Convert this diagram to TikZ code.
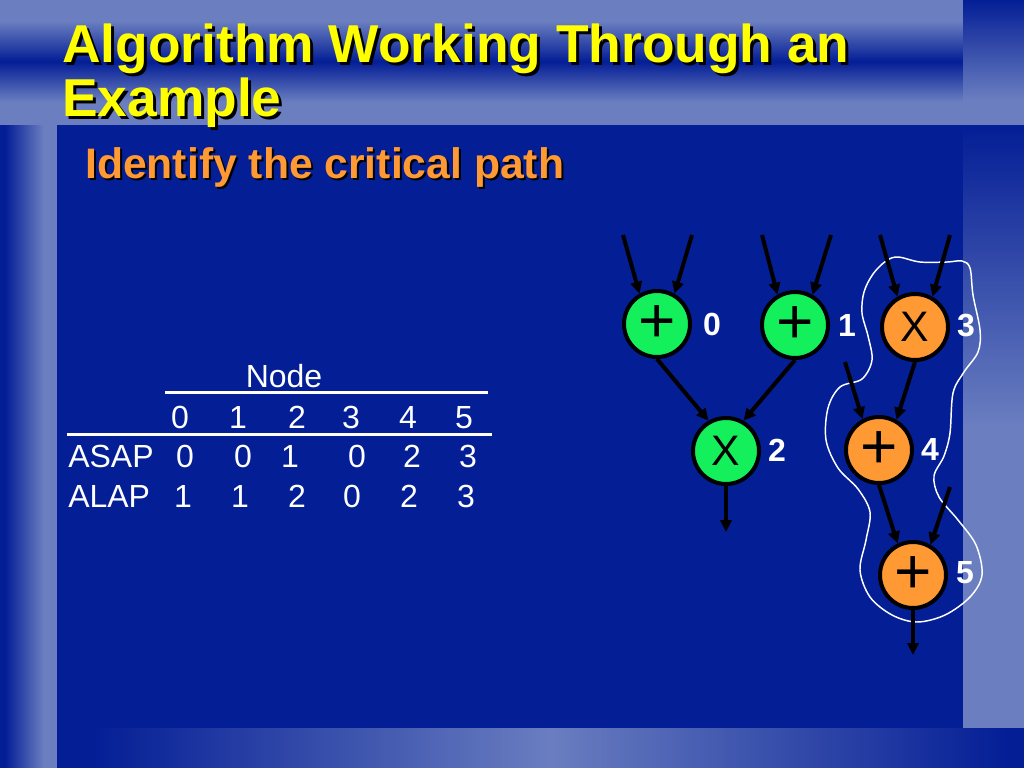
\documentclass[tikz,border=0pt]{standalone}
\usepackage{fontspec}
\setmainfont{Liberation Sans}
\usetikzlibrary{arrows.meta}
\definecolor{bgdark}{RGB}{4,30,150}
\definecolor{bglight}{RGB}{106,126,192}
\definecolor{titleyellow}{RGB}{255,255,0}
\definecolor{suborange}{RGB}{255,153,51}
\definecolor{opgreen}{RGB}{20,240,92}
\definecolor{oporange}{RGB}{255,153,51}
\newcommand{\plussym}{\raisebox{-2.8pt}{\fontsize{48}{48}\selectfont +}}
\newcommand{\timessym}{{\fontsize{32}{32}\selectfont X}}
\begin{document}
\begin{tikzpicture}[x=0.75pt,y=-0.75pt,
  op/.style={circle, draw=black, line width=3pt, minimum size=49.5pt, inner sep=0pt},
  greenop/.style={op, fill=opgreen},
  orangeop/.style={op, fill=oporange},
  flow/.style={line width=3pt, -{Triangle[length=9pt,width=8.5pt]}},
  oplabel/.style={text=white, inner sep=0pt, font=\fontsize{24}{24}\selectfont\bfseries},
  tabtext/.style={text=white, inner sep=0pt, anchor=base, font=\fontsize{24}{24}\selectfont},
  tabrule/.style={white, line width=2.25pt},
]
\useasboundingbox (0,0) rectangle (1024,768);
% background
\fill[bgdark] (0,0) rectangle (1024,768);
% top band: light - dark - light
\foreach \i in {0,...,124}{
  \pgfmathtruncatemacro\t{min(100,abs(\i+0.5-62)*2.5)}
  \fill[bglight!\t!bgdark] (0,\i) rectangle (963,\i+1.6);
}
% top right corner: dark to light
\foreach \i in {0,...,124}{
  \pgfmathtruncatemacro\t{min(100,\i)}
  \fill[bglight!\t!bgdark] (963,\i) rectangle (1024,\i+1.6);
}
% right column
\foreach \i in {125,127,...,727}{
  \pgfmathtruncatemacro\t{min(100,(\i-125)/3)}
  \fill[bglight!\t!bgdark] (963,\i) rectangle (1024,\i+2.6);
}
% left column
\foreach \i in {0,...,56}{
  \pgfmathtruncatemacro\t{max(0,min(100,(\i-5)*2.6))}
  \fill[bglight!\t!bgdark] (\i,125) rectangle (\i+1.6,768);
}
% bottom band
\foreach \i in {57,59,...,1023}{
  \pgfmathtruncatemacro\t{max(0,100-abs(\i-550)/4.6)}
  \fill[bglight!\t!bgdark] (\i,728) rectangle (\i+2.6,768);
}
\fill[bgdark] (57,125) rectangle (963,728);

% title
\node[anchor=base west, inner sep=0pt, align=left, text=black,
      font=\fontsize{40}{40.5}\selectfont\bfseries] (titleshadow) at (65,119)
      {Algorithm Working Through an\\Example};
\node[anchor=base west, inner sep=0pt, align=left, text=titleyellow,
      font=\fontsize{40}{40.5}\selectfont\bfseries] (title) at (62,116)
      {Algorithm Working Through an\\Example};
% subtitle
\node[anchor=base west, inner sep=0pt, text=black,
      font=\fontsize{32}{32}\selectfont\bfseries] (subshadow) at (87,180)
      {Identify the critical path};
\node[anchor=base west, inner sep=0pt, text=suborange,
      font=\fontsize{32}{32}\selectfont\bfseries] (subtitle) at (85,178)
      {Identify the critical path};

% table
\node[tabtext] (hnode) at (284,387) {Node};
\draw[tabrule] (165,392) -- (488,392);
\node[tabtext] (h0) at (180,428) {0};
\node[tabtext] (h1) at (238,428) {1};
\node[tabtext] (h2) at (297,428) {2};
\node[tabtext] (h3) at (351,428) {3};
\node[tabtext] (h4) at (408,428) {4};
\node[tabtext] (h5) at (464,428) {5};
\draw[tabrule] (67,434.5) -- (492,434.5);
\node[tabtext, anchor=base west] (asap) at (68,467) {ASAP};
\node[tabtext] (s0) at (185,467) {0};
\node[tabtext] (s1) at (243,467) {0};
\node[tabtext] (s2) at (290,467) {1};
\node[tabtext] (s3) at (357,467) {0};
\node[tabtext] (s4) at (412,467) {2};
\node[tabtext] (s5) at (468,467) {3};
\node[tabtext, anchor=base west] (alap) at (68,507) {ALAP};
\node[tabtext] (l0) at (183,507) {1};
\node[tabtext] (l1) at (240,507) {1};
\node[tabtext] (l2) at (297,507) {2};
\node[tabtext] (l3) at (352,507) {0};
\node[tabtext] (l4) at (409,507) {2};
\node[tabtext] (l5) at (466,507) {3};

% critical path outline
\draw[white, line width=1.1pt] plot[smooth cycle, tension=0.55] coordinates {
 (862,313) (864,292) (873,274) (886,261) (898,257) (920,262) (947,262) (962,261)
 (970,268) (973,295) (980,330) (978,352) (964,372) (953,393) (950,433) (944,456)
 (934,476) (939,497) (958,520) (976,545) (982,575) (970,597) (945,615) (917,622)
 (892,615) (870,597) (860,570) (866,540) (870,512) (858,489) (838,468) (826,440)
 (828,408) (840,387) (862,379) (872,360) (868,336)};

% operation nodes
\node[greenop] (n0) at (657,324) {\plussym};
\node[greenop] (n1) at (795,325) {\plussym};
\node[greenop] (n2) at (726,451) {\timessym};
\node[orangeop] (n3) at (915,327) {\timessym};
\node[orangeop] (n4) at (879,450) {\plussym};
\node[orangeop] (n5) at (913,575) {\plussym};

\node[oplabel] (t0) at (712,324) {0};
\node[oplabel] (t1) at (847,325) {1};
\node[oplabel] (t2) at (777,450) {2};
\node[oplabel] (t3) at (966,326) {3};
\node[oplabel] (t4) at (930,449) {4};
\node[oplabel] (t5) at (965,573) {5};

% free ends
\coordinate (i0a) at (623,235);
\coordinate (i0b) at (692,235);
\coordinate (i1a) at (762,235);
\coordinate (i1b) at (831,235);
\coordinate (i3a) at (880,235);
\coordinate (i3b) at (950,235);
\coordinate (i4) at (845,362);
\coordinate (i5) at (950,487);
\coordinate (o2) at (726,532);
\coordinate (o5) at (913,655);

% connectors
\draw[flow] (i0a) -- (n0.120);
\draw[flow] (i0b) -- (n0.60);
\draw[flow] (i1a) -- (n1.120);
\draw[flow] (i1b) -- (n1.60);
\draw[flow] (i3a) -- (n3.120);
\draw[flow] (i3b) -- (n3.60);
\draw[flow] (n0.south) -- (n2.120);
\draw[flow] (n1.south) -- (n2.60);
\draw[flow] (n3.south) -- (n4.60);
\draw[flow] (i4) -- (n4.118);
\draw[flow] (n4.south) -- (n5.116);
\draw[flow] (i5) -- (n5.60);
\draw[flow] (n2.south) -- (o2);
\draw[flow] (n5.south) -- (o5);
\end{tikzpicture}
\end{document}
